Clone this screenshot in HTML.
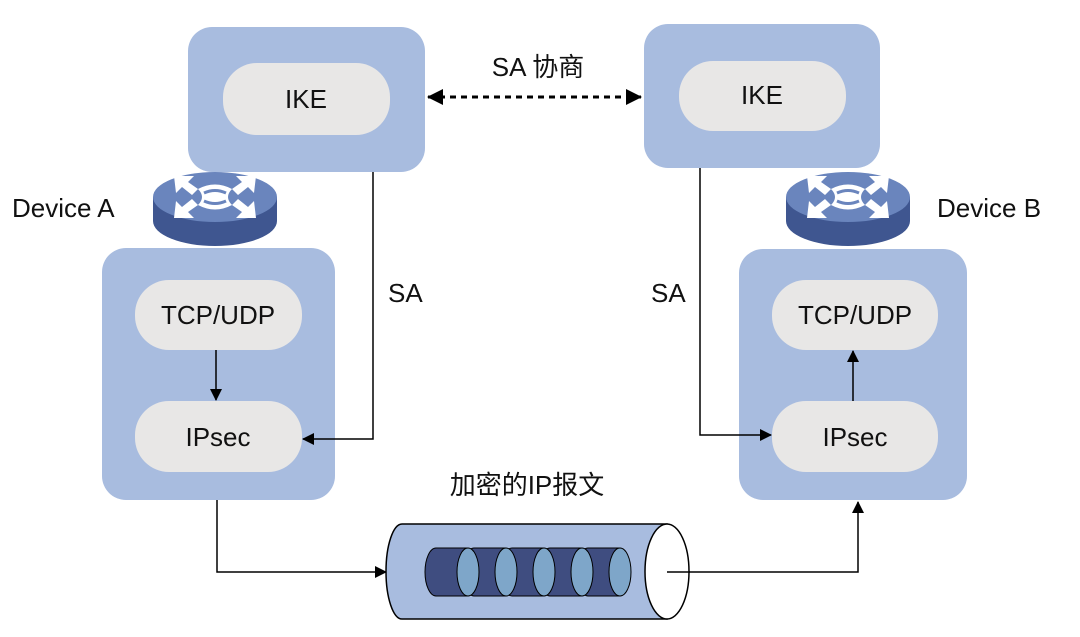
<!DOCTYPE html>
<html><head><meta charset="utf-8"><style>
html,body{margin:0;padding:0;background:#fff}
svg{display:block}
text{font-family:"Liberation Sans","Noto Sans CJK SC",sans-serif;fill:#111}
</style></head><body>
<svg width="1080" height="637" viewBox="0 0 1080 637" xmlns="http://www.w3.org/2000/svg">
<defs>
<marker id="ah" markerWidth="12" markerHeight="12" refX="11" refY="6" orient="auto" markerUnits="userSpaceOnUse"><path d="M0,0 L12,6 L0,12 z" fill="#000"/></marker>
<marker id="bh" markerWidth="16" markerHeight="16" refX="15" refY="8" orient="auto" markerUnits="userSpaceOnUse"><path d="M0,0 L16,8 L0,16 z" fill="#000"/></marker>
<marker id="bhs" markerWidth="16" markerHeight="16" refX="1" refY="8" orient="auto" markerUnits="userSpaceOnUse"><path d="M16,0 L0,8 L16,16 z" fill="#000"/></marker>
<g id="rt">
<path d="M153,197 L153,221 A62,25 0 0 0 277,221 L277,197 z" fill="#3f5690"/>
<ellipse cx="215" cy="197" rx="62" ry="25" fill="#6a85bd"/>
<g fill="#fff">
<polygon points="174,176 194,176 188,182 198,189 192,195 182,187 176,193"/>
<polygon points="256,176 236,176 242,182 232,189 238,195 248,187 254,193"/>
<polygon points="174,218 194,218 188,212 198,205 192,199 182,207 176,201"/>
<polygon points="256,218 236,218 242,212 232,205 238,199 248,207 254,201"/>
<path d="M198,189 Q215,180 232,189 Q224,197 232,205 Q215,214 198,205 Q206,197 198,189 z"/>
</g>
<path d="M204,193 Q215,188 226,193 M204,201 Q215,206 226,201" stroke="#6a85bd" stroke-width="3" fill="none"/>
</g>
<g id="cyl">
<path d="M436,548 L468,548 L468,596 L436,596 A11,24 0 0 1 436,548 z" fill="#3f4d80" stroke="#000"/>
<ellipse cx="468" cy="572" rx="11" ry="24" fill="#7ea6c9" stroke="#000"/>
</g>
</defs>
<rect x="188" y="27" width="237" height="145" rx="24" fill="#a8bcdf"/>
<rect x="223" y="63" width="167" height="72" rx="34" fill="#e8e7e6"/>
<text x="306" y="108" font-size="26" text-anchor="middle">IKE</text>
<rect x="644" y="24" width="236" height="144" rx="24" fill="#a8bcdf"/>
<rect x="679" y="61" width="167" height="70" rx="34" fill="#e8e7e6"/>
<text x="762" y="104" font-size="26" text-anchor="middle">IKE</text>
<text x="538" y="76" font-size="26" text-anchor="middle">SA  协商</text>
<line x1="428" y1="97" x2="641" y2="97" stroke="#000" stroke-width="3" stroke-dasharray="6,5" marker-start="url(#bhs)" marker-end="url(#bh)"/>
<use href="#rt"/>
<use href="#rt" transform="translate(633,0)"/>
<text x="12" y="217" font-size="26">Device A</text>
<text x="937" y="217" font-size="26">Device B</text>
<rect x="102" y="248" width="233" height="252" rx="24" fill="#a8bcdf"/>
<rect x="135" y="280" width="167" height="70" rx="34" fill="#e8e7e6"/>
<text x="218" y="324" font-size="26" text-anchor="middle">TCP/UDP</text>
<rect x="135" y="401" width="167" height="71" rx="34" fill="#e8e7e6"/>
<text x="218" y="446" font-size="26" text-anchor="middle">IPsec</text>
<rect x="739" y="249" width="228" height="251" rx="24" fill="#a8bcdf"/>
<rect x="772" y="280" width="166" height="70" rx="34" fill="#e8e7e6"/>
<text x="855" y="324" font-size="26" text-anchor="middle">TCP/UDP</text>
<rect x="772" y="401" width="166" height="71" rx="34" fill="#e8e7e6"/>
<text x="855" y="446" font-size="26" text-anchor="middle">IPsec</text>
<line x1="216" y1="350" x2="216" y2="400" stroke="#000" stroke-width="1.5" marker-end="url(#ah)"/>
<line x1="853" y1="401" x2="853" y2="351" stroke="#000" stroke-width="1.5" marker-end="url(#ah)"/>
<polyline points="373,172 373,439 303,439" fill="none" stroke="#000" stroke-width="1.5" marker-end="url(#ah)"/>
<text x="388" y="302" font-size="26">SA</text>
<polyline points="700,168 700,435 771,435" fill="none" stroke="#000" stroke-width="1.5" marker-end="url(#ah)"/>
<text x="651" y="302" font-size="26">SA</text>
<polyline points="217,500 217,572 386,572" fill="none" stroke="#000" stroke-width="1.5" marker-end="url(#ah)"/>
<polyline points="665,572 858,572 858,502" fill="none" stroke="#000" stroke-width="1.5" marker-end="url(#ah)"/>
<text x="527" y="494" font-size="26" text-anchor="middle">加密的IP报文</text>
<path d="M402,524 L667,524 L667,619 L402,619 A16,47.5 0 0 1 402,524 z" fill="#a8bcdf" stroke="#000" stroke-width="1.5"/>
<ellipse cx="667" cy="571.5" rx="22" ry="47.5" fill="#fff" stroke="#000" stroke-width="1.5"/>
<line x1="667" y1="572" x2="690" y2="572" stroke="#000" stroke-width="1.5"/>
<use href="#cyl" transform="translate(152,0)"/>
<use href="#cyl" transform="translate(114,0)"/>
<use href="#cyl" transform="translate(76,0)"/>
<use href="#cyl" transform="translate(38,0)"/>
<use href="#cyl"/>
</svg>
</body></html>
